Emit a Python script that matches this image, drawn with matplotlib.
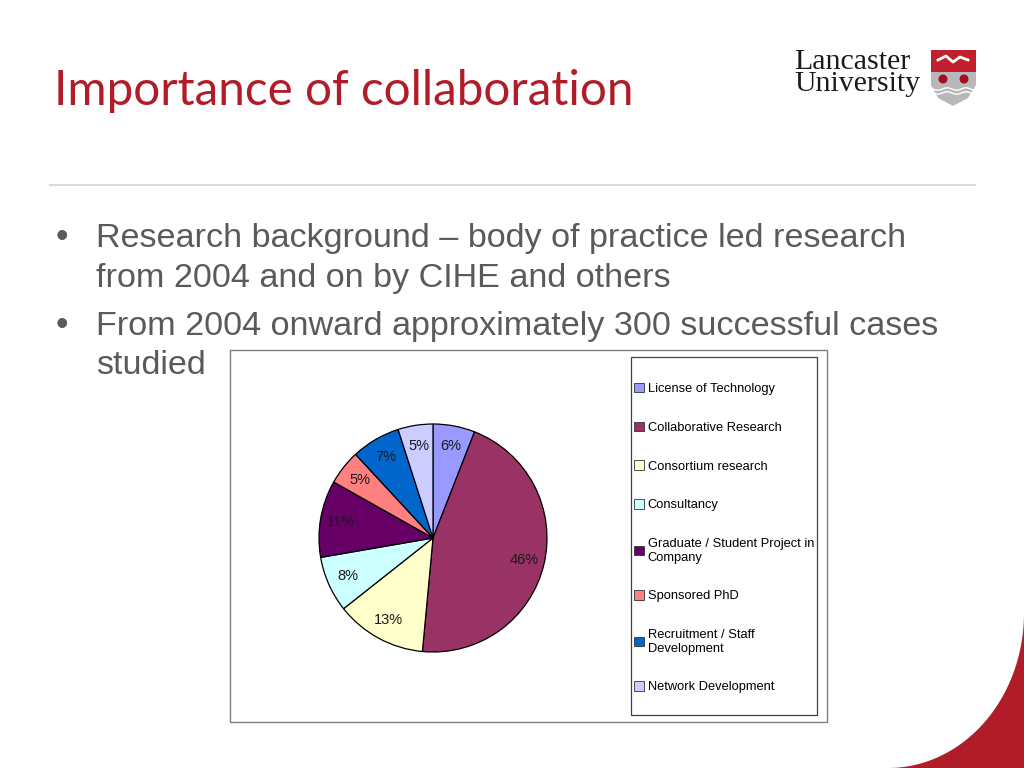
import numpy as np
import matplotlib
matplotlib.use("Agg")
import matplotlib.pyplot as plt
from matplotlib.patches import Rectangle, Polygon, Patch, Circle

# pie data (clockwise from 12 o'clock)
categories = ['License of Technology', 'Collaborative Research', 'Consortium research',
              'Consultancy', 'Graduate / Student Project in\nCompany', 'Sponsored PhD',
              'Recruitment / Staff\nDevelopment', 'Network Development']
shares = [6, 46, 13, 8, 11, 5, 7, 5]
colors = ['#9999FF', '#993366', '#FFFFCC', '#CCFFFF', '#660066', '#FF8080', '#0066CC', '#CCCCFF']

title = 'Importance of collaboration'
bullets = [['Research background \u2013 body of practice led research',
            'from 2004 and on by CIHE and others'],
           ['From 2004 onward approximately 300 successful cases',
            'studied']]

RED = '#B01C28'
GREY_TXT = '#5A5A5A'


def main():
    fig = plt.figure(figsize=(10.24, 7.68), dpi=100)

    # overlay axes in pixel coordinates for slide decorations
    bg = fig.add_axes([0, 0, 1, 1])
    bg.set_xlim(0, 1024)
    bg.set_ylim(768, 0)
    bg.axis('off')

    # red corner shape bottom right
    t = np.linspace(0, np.pi / 2, 60)
    cx, cy, a, b = 888, 613, 136, 155
    arc = np.column_stack([cx + a * np.cos(t), cy + b * np.sin(t)])
    pts = np.vstack([[[1024, 613]], arc, [[1024, 768]]])
    bg.add_patch(Polygon(pts, closed=True, facecolor=RED, edgecolor='none'))

    # title and rule
    bg.text(54, 91, title, fontsize=34.3, color=RED, family='Lato',
            va='center', ha='left')
    bg.plot([50, 975], [185, 185], color='#D9D9D9', lw=1.5)

    # bullets
    y = 238
    for item in bullets:
        bg.text(56, y, '\u2022', fontsize=26, color=GREY_TXT, family='Liberation Sans',
                va='center', ha='left')
        for line in item:
            bg.text(96, y, line, fontsize=24.6, color=GREY_TXT, family='Liberation Sans',
                    va='center', ha='left')
            y += 40
        y += 8

    # logo
    bg.text(794, 73, 'Lancaster\nUniversity', fontsize=21.5, family='Liberation Serif',
            color='#1a1a1a', va='center', ha='left', linespacing=0.8)
    shield = Polygon([[931, 50], [976, 50], [976, 85], [968, 98], [953, 106],
                      [938, 98], [931, 85]], closed=True, facecolor='#B8B8B8',
                     edgecolor='none')
    bg.add_patch(shield)
    bg.add_patch(Rectangle((931, 50), 45, 22, facecolor='#C0202E', edgecolor='none'))
    bg.add_patch(Circle((943, 79), 4.5, facecolor='#A01020', edgecolor='none'))
    bg.add_patch(Circle((964, 79), 4.5, facecolor='#A01020', edgecolor='none'))
    wx = np.linspace(933, 974, 40)
    bg.plot(wx, 89 + 1.2 * np.sin((wx - 933) / 3), color='white', lw=1)
    bg.plot(wx, 93 + 1.2 * np.sin((wx - 933) / 3), color='white', lw=1)
    bg.plot([938, 946, 953, 960, 968], [60, 56, 62, 57, 60], color='white', lw=2)

    # chart frame and legend frame
    bg.add_patch(Rectangle((230, 350), 597, 372, facecolor='white',
                           edgecolor='#7F7F7F', lw=1))
    bg.add_patch(Rectangle((631, 357), 186, 358, facecolor='none',
                           edgecolor='#404040', lw=0.9))

    # pie
    cxp, cyp, r = 433, 538, 114
    ax = fig.add_axes([(cxp - r) / 1024, (768 - cyp - r) / 768, 2 * r / 1024, 2 * r / 768])
    wedges, texts = ax.pie(shares, colors=colors, startangle=90, counterclock=False,
                           wedgeprops=dict(edgecolor='black', linewidth=0.9))
    for w, v in zip(wedges, shares):
        ang = np.deg2rad((w.theta1 + w.theta2) / 2)
        ax.text(0.82 * np.cos(ang), 0.82 * np.sin(ang), f'{v}%', ha='center', va='center',
                fontsize=10.5, family='Liberation Sans', color='#1a1a1a')
    ax.set_xlim(-1, 1)
    ax.set_ylim(-1, 1)
    ax.set_aspect('equal')
    ax.axis('off')
    for w in wedges:
        w.set_clip_on(False)

    # legend
    handles = [Patch(facecolor=c, edgecolor='#333333', lw=0.6) for c in colors]
    fig.legend(handles, categories, loc='upper left',
               bbox_to_anchor=(634 / 1024, 1 - 383 / 768), frameon=False,
               prop={'family': 'Liberation Sans', 'size': 9.3},
               handlelength=0.75, handleheight=0.75, handletextpad=0.3,
               labelspacing=2.05, borderaxespad=0, borderpad=0)

    fig.savefig('out.png', dpi=100)


if __name__ == '__main__':
    main()
